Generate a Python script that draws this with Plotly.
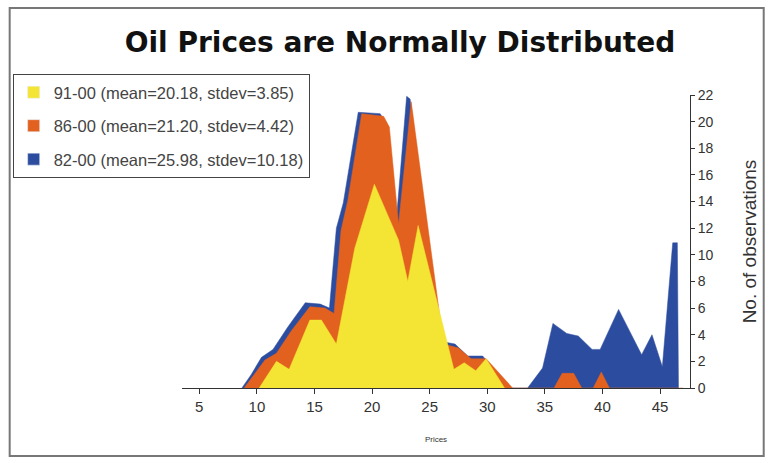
import plotly.graph_objects as go

# ---- data ----
prices_9100 = [10.2, 11.7, 12.8, 14.6, 15.6, 16.9, 18.5, 20.2, 22.3, 23.1, 24.0, 27.1, 28.0, 29.0, 29.9, 31.5]
obs_9100 = [0, 2.0, 1.4, 5.1, 5.1, 3.3, 10.5, 15.3, 11.1, 8.0, 12.2, 1.4, 1.9, 1.3, 2.2, 0]

prices_8600 = [8.9, 10.7, 11.7, 13.0, 14.6, 15.9, 16.7, 17.3, 17.9, 19.1, 21.0, 21.5, 22.3, 23.4,
               26.2, 27.5, 28.6, 29.9, 32.2, 35.8, 36.5, 37.5, 38.2, 39.2, 39.9, 40.6, 47.0]
obs_8600 = [0, 2.1, 2.6, 4.3, 6.1, 6.0, 5.6, 11.8, 14.1, 20.6, 20.4, 19.6, 12.3, 21.5,
            3.3, 3.0, 2.2, 2.2, 0, 0, 1.1, 1.1, 0, 0, 1.2, 0, 0]

prices_8200 = [8.7, 9.5, 10.4, 11.4, 12.7, 14.2, 15.5, 16.3, 16.9, 17.5, 18.8, 20.7, 21.3, 22.1, 23.0, 23.3,
               26.0, 27.2, 28.3, 29.6, 32.0, 33.5, 34.8, 35.7, 36.9, 37.9, 39.1, 39.8, 41.4, 43.4, 44.3,
               45.2, 46.1, 46.5, 46.6]
obs_8200 = [0, 1.0, 2.3, 2.9, 4.6, 6.4, 6.3, 6.0, 12.0, 13.9, 20.7, 20.6, 19.8, 12.5, 21.9, 21.7,
            3.5, 3.3, 2.4, 2.4, 0, 0, 1.5, 4.85, 4.1, 3.9, 2.9, 2.9, 5.9, 2.5, 4.0,
            1.6, 10.9, 10.9, 0]

names = ["91-00 (mean=20.18, stdev=3.85)",
         "86-00 (mean=21.20, stdev=4.42)",
         "82-00 (mean=25.98, stdev=10.18)"]
colors = ["#F4E535", "#E2611F", "#2C4D9F"]

x_ticks = [5, 10, 15, 20, 25, 30, 35, 40, 45]
y_ticks = list(range(0, 23, 2))

fig = go.Figure()
series = [(prices_8200, obs_8200, names[2], colors[2]),
          (prices_8600, obs_8600, names[1], colors[1]),
          (prices_9100, obs_9100, names[0], colors[0])]
for xs, ys, nm, col in series:
    fig.add_trace(go.Scatter(
        x=xs, y=ys, name=nm, mode="lines", fill="tozeroy",
        line=dict(color=col, width=0.5), fillcolor=col,
        showlegend=False, hoverinfo="x+y+name"))

# legend entries (square swatches)
for rk, (nm, col) in enumerate(zip(names, colors), start=1):
    fig.add_trace(go.Bar(x=[None], y=[None], name=nm, marker_color=col,
                         legendgroup=nm, legendrank=rk, showlegend=True))

W, H = 770, 463
L, R, T, B = 180, 80, 95, 75
pw, ph = W - L - R, H - T - B

def px(xp):
    return (xp - L) / pw

def py(yp):
    return (H - B - yp) / ph

fig.update_layout(
    width=W, height=H,
    margin=dict(l=L, r=R, t=T, b=B),
    paper_bgcolor="white", plot_bgcolor="white",
    font=dict(family="Liberation Sans, Arial, sans-serif", color="#333333"),
    title=dict(text="<b>Oil Prices are Normally Distributed</b>",
               font=dict(family="DejaVu Sans, sans-serif", size=28, color="#111111"),
               x=400 / W, xanchor="center", y=1 - 42 / H, yanchor="middle"),
    showlegend=True,
    legend=dict(x=px(10), y=py(74), xanchor="left", yanchor="top",
                bordercolor="#444444", borderwidth=1, bgcolor="white",
                font=dict(size=16.5, color="#444444"),
                traceorder="grouped", tracegroupgap=9,
                itemwidth=30, entrywidth=310),
    xaxis=dict(range=[3.5, 47.6], tickvals=x_ticks, showgrid=False, zeroline=False,
               showline=True, linecolor="#333333", linewidth=1,
               ticks="outside", ticklen=5, tickcolor="#333333",
               tickfont=dict(size=15, color="#333333"),
               title=dict(text="Prices", font=dict(size=8, color="#333333"), standoff=22)),
    yaxis=dict(range=[0, 22], tickvals=y_ticks, side="right", showgrid=False, zeroline=False,
               showline=True, linecolor="#333333", linewidth=1,
               ticks="outside", ticklen=4, tickcolor="#333333",
               tickfont=dict(size=14, color="#333333"),
               title=dict(text="No. of observations", font=dict(size=19, color="#333333"),
                          standoff=30)),
    shapes=[dict(type="rect", xref="paper", yref="paper",
                 x0=px(7), x1=px(764), y0=py(456), y1=py(8),
                 line=dict(color="#777777", width=2), fillcolor="rgba(0,0,0,0)", layer="below")],
)

fig.write_html("out.html", config={"displayModeBar": False},
               post_script="document.body.style.margin='0px';")
